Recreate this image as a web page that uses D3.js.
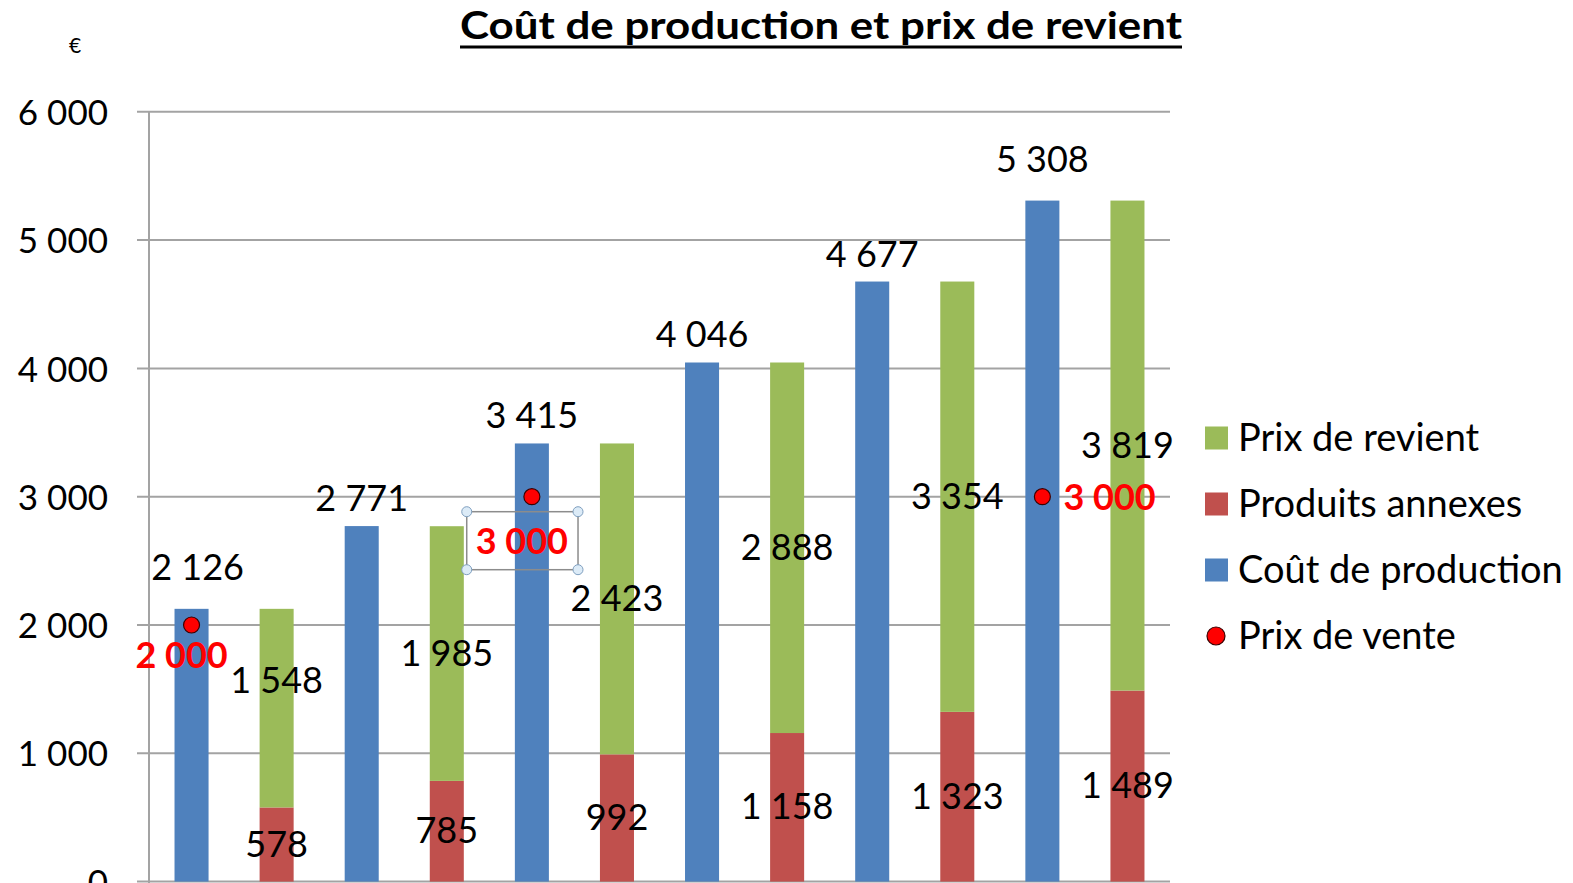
<!DOCTYPE html>
<html>
<head>
<meta charset="utf-8">
<script src="https://cdn.jsdelivr.net/npm/d3@7"></script>
<style>
  body { margin: 0; background: #fff; overflow: hidden; }
  text { font-family: Lato, "Open Sans", sans-serif; fill: #000; }
</style>
</head>
<body>
<div id="chart"></div>
<script>
// data
const groups = ["1", "2", "3", "4", "5", "6"];
const coutProduction = [2126, 2771, 3415, 4046, 4677, 5308];
const produitsAnnexes = [578, 785, 992, 1158, 1323, 1489];
const prixRevient = [1548, 1985, 2423, 2888, 3354, 3819];
const prixVente = [2000, null, 3000, null, null, 3000];
const yTicks = [0, 1000, 2000, 3000, 4000, 5000, 6000];
const legendItems = ["Prix de revient", "Produits annexes", "Coût de production", "Prix de vente"];

const colors = {cout: "#4F81BD", annexes: "#C0504D", revient: "#9BBB59", vente: "#FF0000"};

const W = 1573, H = 883;
const left = 149, right = 1170, y0px = 881.6, y6000px = 111.8;

const fr = d3.formatLocale({decimal: ",", thousands: " ", grouping: [3], currency: ["", " €"]});
const fmt = fr.format(",");

const svg = d3.select("#chart").append("svg")
  .attr("width", W)
  .attr("height", H);

// scales
const x0 = d3.scaleBand().domain(groups).range([left, right]);
const x1 = d3.scaleBand().domain(["cout", "revient"])
  .range([0, x0.bandwidth()])
  .paddingInner(0.6)
  .paddingOuter(0.3);
const y = d3.scaleLinear().domain([0, 6000]).range([y0px, y6000px]);

// title (underlined)
const titleX = 821, titleW = 722;
svg.append("text")
  .attr("x", titleX)
  .attr("y", 39)
  .attr("text-anchor", "middle")
  .attr("textLength", titleW)
  .attr("lengthAdjust", "spacingAndGlyphs")
  .style("font-size", "38px")
  .style("font-weight", "bold")
  .text("Coût de production et prix de revient");
svg.append("line")
  .attr("x1", titleX - titleW / 2).attr("x2", titleX + titleW / 2)
  .attr("y1", 47).attr("y2", 47)
  .attr("stroke", "#000").attr("stroke-width", 3);

// € unit
svg.append("text")
  .attr("x", 75).attr("y", 53)
  .attr("text-anchor", "middle")
  .style("font-size", "21px")
  .text("€");

// gridlines
svg.append("g")
  .selectAll("line")
  .data(yTicks)
  .join("line")
    .attr("x1", left - 12).attr("x2", right)
    .attr("y1", d => y(d)).attr("y2", d => y(d))
    .attr("stroke", "#a3a3a3").attr("stroke-width", 2);

// Y axis
const yAxis = svg.append("g")
  .attr("transform", `translate(${left},0)`)
  .call(d3.axisLeft(y).tickValues(yTicks).tickFormat(fmt).tickSize(12).tickPadding(29));
yAxis.select(".domain").remove();
yAxis.selectAll(".tick line").remove();
yAxis.selectAll("text")
  .attr("dy", "0.36em")
  .style("font-size", "35px")
  .style("font-family", "Lato, sans-serif")
  .attr("fill", "#000");
svg.append("line")
  .attr("x1", left).attr("x2", left)
  .attr("y1", y(6000)).attr("y2", H)
  .attr("stroke", "#a3a3a3").attr("stroke-width", 2);

const rows = groups.map((g, i) => ({
  g, i,
  cout: coutProduction[i],
  annexes: produitsAnnexes[i],
  revient: prixRevient[i],
  vente: prixVente[i]
}));

// blue bars
svg.append("g")
  .selectAll("rect")
  .data(rows)
  .join("rect")
    .attr("x", d => x0(d.g) + x1("cout"))
    .attr("y", d => y(d.cout))
    .attr("width", x1.bandwidth())
    .attr("height", d => y(0) - y(d.cout))
    .attr("fill", colors.cout);

// stacked bars: annexes (bottom) + revient (top)
const stack = d3.stack().keys(["annexes", "revient"]);
const series = stack(rows);
svg.append("g")
  .selectAll("g")
  .data(series)
  .join("g")
    .attr("fill", s => colors[s.key])
  .selectAll("rect")
  .data(s => s)
  .join("rect")
    .attr("x", d => x0(d.data.g) + x1("revient"))
    .attr("y", d => y(d[1]))
    .attr("width", x1.bandwidth())
    .attr("height", d => y(d[0]) - y(d[1]));

// value labels
const labels = svg.append("g").style("font-size", "36px");
// a couple of labels were moved by hand in the original
const coutNudge = {0: [6, -14], 5: [0, -14]};
const revientNudge = {0: [0, -27]};

labels.selectAll(".lab-cout")
  .data(rows)
  .join("text")
    .attr("class", "lab-cout")
    .attr("text-anchor", "middle")
    .attr("x", d => x0(d.g) + x1("cout") + x1.bandwidth() / 2 + (coutNudge[d.i] ? coutNudge[d.i][0] : 0))
    .attr("y", d => y(d.cout) - 15 + (coutNudge[d.i] ? coutNudge[d.i][1] : 0))
    .text(d => fmt(d.cout));

series.forEach(s => {
  labels.selectAll(".lab-" + s.key)
    .data(s)
    .join("text")
      .attr("class", "lab-" + s.key)
      .attr("text-anchor", "middle")
      .attr("x", d => x0(d.data.g) + x1("revient") + x1.bandwidth() / 2)
      .attr("y", (d, i) => (y(d[0]) + y(d[1])) / 2 + 12 +
        (s.key === "revient" && revientNudge[i] ? revientNudge[i][1] : 0))
      .text(d => fmt(d.data[s.key]));
});

// prix de vente points
const venteRows = rows.filter(d => d.vente != null);
const venteOffset = {0: [-10, 43, "middle"], 2: [-10, 57, "middle"], 5: [21, 13, "start"]};
const cx = d => x0(d.g) + x1("cout") + x1.bandwidth() / 2;

svg.append("g")
  .selectAll("circle")
  .data(venteRows)
  .join("circle")
    .attr("cx", cx)
    .attr("cy", d => y(d.vente))
    .attr("r", 8)
    .attr("fill", colors.vente)
    .attr("stroke", "#3a0000")
    .attr("stroke-width", 1.2);

const venteLabels = svg.append("g")
  .selectAll("text")
  .data(venteRows)
  .join("text")
    .attr("x", d => cx(d) + venteOffset[d.i][0])
    .attr("y", d => y(d.vente) + venteOffset[d.i][1])
    .attr("text-anchor", d => venteOffset[d.i][2])
    .style("font-size", "36px")
    .style("font-weight", "bold")
    .style("fill", colors.vente)
    .text(d => fmt(d.vente));

// selection frame around the middle label (as in the screenshot)
const sel = venteLabels.filter(d => d.i === 2).node().getBBox();
const bx0 = sel.x - 9, bx1 = sel.x + sel.width + 10, by0 = sel.y - 6, by1 = sel.y + sel.height + 8;
const frame = svg.append("g");
frame.append("rect")
  .attr("x", bx0).attr("y", by0)
  .attr("width", bx1 - bx0).attr("height", by1 - by0)
  .attr("fill", "none").attr("stroke", "#8c8c8c").attr("stroke-width", 1.5);
frame.selectAll("circle")
  .data([[bx0, by0], [bx1, by0], [bx0, by1], [bx1, by1]])
  .join("circle")
    .attr("cx", d => d[0]).attr("cy", d => d[1])
    .attr("r", 5)
    .attr("fill", "#dcebf7").attr("stroke", "#7f9fbf").attr("stroke-width", 1);

// legend
const legendColors = [colors.revient, colors.annexes, colors.cout, colors.vente];
const lg = svg.append("g").attr("transform", "translate(1205,438)");
const item = lg.selectAll("g")
  .data(legendItems)
  .join("g")
    .attr("transform", (d, i) => `translate(0,${i * 66})`);
item.filter((d, i) => i < 3).append("rect")
  .attr("x", 0).attr("y", -11.5)
  .attr("width", 23).attr("height", 23)
  .attr("fill", (d, i) => legendColors[i]);
item.filter((d, i) => i === 3).append("circle")
  .attr("cx", 11).attr("cy", 0).attr("r", 9)
  .attr("fill", colors.vente).attr("stroke", "#3a0000").attr("stroke-width", 1.2);
item.append("text")
  .attr("x", 33).attr("y", 13)
  .style("font-size", "38px")
  .text(d => d);
</script>
</body>
</html>
